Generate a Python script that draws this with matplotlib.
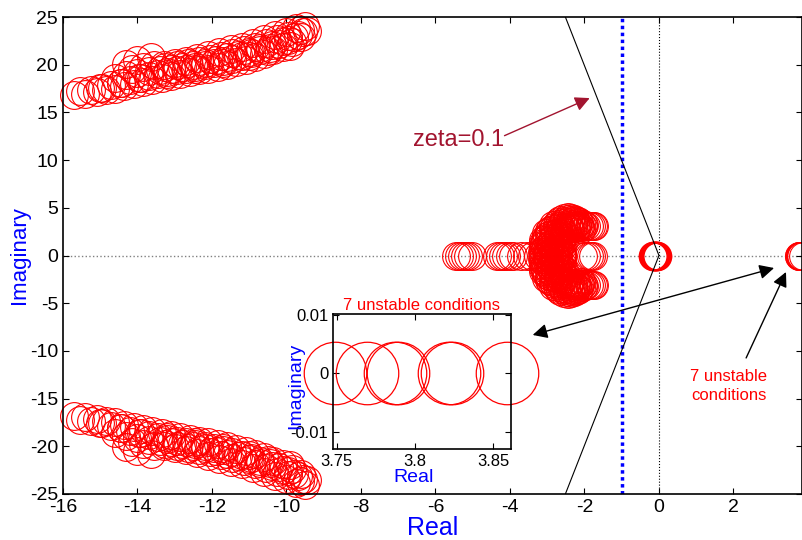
import matplotlib.pyplot as plt

plt.rcParams['font.family'] = ['Liberation Sans', 'DejaVu Sans']
plt.rcParams['axes.unicode_minus'] = False

# upper-left branch of poles (lower-left branch is its complex conjugate)
upper_re = [-15.7, -15.4, -15.1, -14.85, -14.6, -14.35, -14.1, -13.85, -13.6, -13.35,
            -13.1, -12.85, -12.6, -12.35, -12.1, -11.85, -11.6, -11.35, -11.1, -10.85,
            -10.6, -10.35, -10.1, -9.85, -9.6,
            -14.3, -14.0, -13.65, -13.3, -13.0, -12.7, -12.4, -12.1, -11.8, -11.5,
            -11.2, -10.9, -10.6, -10.3, -10.0, -9.75, -9.5,
            -14.6, -14.3, -14.0, -13.7, -13.4, -13.1, -12.8, -12.5, -12.2, -11.9,
            -11.6, -11.3, -11.0, -10.7, -10.4, -10.1, -9.8, -9.55,
            -15.0, -14.45, -13.9, -13.2, -12.45, -11.7, -11.0, -10.5, -9.9, -9.45,
            -15.55, -15.25, -14.95, -14.7, -14.45, -14.2, -13.95, -13.7, -13.45, -13.2,
            -12.95, -12.7, -12.45, -12.2, -11.95, -11.7, -11.45, -11.2, -10.95, -10.7,
            -10.45, -10.2, -9.95, -9.7,
            -14.15, -13.85, -13.55, -13.25, -12.95, -12.65, -12.35, -12.05, -11.75, -11.45,
            -11.15, -10.85, -10.55, -10.25, -9.95, -9.65]
upper_im = [16.8, 16.9, 17.1, 17.3, 17.5, 17.8, 18.0, 18.2, 18.4, 18.6,
            18.8, 19.0, 19.2, 19.4, 19.6, 19.8, 20.0, 20.3, 20.5, 20.8,
            21.1, 21.5, 21.9, 22.4, 22.9,
            20.1, 20.5, 20.8, 20.0, 20.2, 20.4, 20.7, 21.0, 21.3, 21.6,
            21.9, 22.3, 22.7, 23.1, 23.4, 23.8, 24.1,
            18.6, 18.9, 19.1, 19.3, 19.4, 19.6, 19.8, 20.0, 20.2, 20.5,
            20.8, 21.0, 21.3, 21.7, 22.1, 22.5, 22.9, 23.4,
            17.6, 18.1, 18.6, 19.0, 19.6, 20.2, 20.9, 21.4, 22.0, 23.5,
            17.2, 17.4, 17.6, 17.9, 18.1, 18.4, 18.6, 18.8, 19.0, 19.2,
            19.4, 19.6, 19.8, 20.0, 20.2, 20.4, 20.6, 20.9, 21.2, 21.5,
            21.8, 22.2, 22.6, 23.1,
            19.6, 19.8, 20.0, 19.8, 20.0, 20.2, 20.4, 20.6, 20.9, 21.2,
            21.5, 21.9, 22.3, 22.7, 23.0, 23.6]

# middle cluster, upper half (lower half is the conjugate)
mid_re = [-3.15, -3.1, -3.05, -2.95, -2.85, -2.75, -2.65, -2.55, -2.45, -2.35,
          -2.25, -2.15, -2.05,
          -1.95, -1.88, -1.82, -1.78, -1.75,
          -3.0, -2.9, -2.8, -2.7, -2.6, -2.6, -2.7, -2.55, -2.45, -2.3, -2.2, -2.1,
          -3.1, -3.05, -2.95, -2.95, -2.9, -2.85, -2.85, -2.8, -2.8, -2.75,
          -2.75, -2.7, -2.7, -2.65, -2.65, -2.6, -2.6, -2.6, -2.55, -2.55,
          -2.5, -2.5, -2.4, -2.4, -2.35, -2.3, -2.25, -2.2, -2.15, -2.1,
          -2.05, -2.0, -2.85, -2.95, -3.0, -3.1,
          -3.12, -3.08, -3.02, -2.98, -2.92, -2.88, -2.82, -2.78, -2.72, -2.68,
          -2.62, -2.58, -3.12, -3.02, -2.92, -2.82, -2.72, -2.62,
          -3.0, -2.9, -2.8, -2.7, -2.6,
          -2.52, -2.48, -2.42, -2.38, -2.32, -2.28, -2.22, -2.18, -2.12,
          -2.5, -2.4, -2.3, -2.2]
mid_im = [0.4, 1.0, 1.6, 2.2, 2.8, 3.3, 3.7, 3.9, 4.0, 3.9,
          3.7, 3.5, 3.3,
          3.1, 3.1, 3.1, 3.1, 3.1,
          0.6, 1.2, 0.7, 1.8, 0.9, 2.6, 2.5, 1.5, 3.2, 2.9, 3.0, 2.8,
          0.2, 0.8, 0.3, 1.5, 0.9, 1.9, 0.4, 1.4, 2.3, 1.0,
          2.9, 0.5, 1.3, 2.1, 3.1, 1.7, 0.3, 3.4, 2.3, 3.6,
          2.9, 3.5, 3.5, 2.7, 3.3, 3.6, 3.2, 3.4, 3.1, 3.3,
          3.0, 3.2, 3.2, 2.6, 2.0, 1.3,
          0.6, 1.2, 1.8, 0.5, 1.1, 1.7, 2.4, 0.2, 2.0, 0.8,
          1.2, 2.0, 1.6, 2.4, 2.7, 3.0, 3.5, 2.9,
          0.1, 0.2, 0.1, 0.2, 0.1,
          3.0, 3.8, 3.0, 3.7, 3.1, 3.8, 2.9, 3.6, 3.0,
          2.7, 2.9, 3.3, 3.2]

# poles on the real axis
axis_re = [-5.45, -5.38, -5.3, -5.22, -5.12, -5.02,
           -4.35, -4.28, -4.2, -4.1, -4.0, -3.92, -3.7, -3.55, -3.4, -3.25,
           -2.05, -1.95, -1.88, -1.82, -1.78]
origin_re = [-0.16, -0.13, -0.1, -0.07, -0.05]
unstable_re = [3.749, 3.769, 3.787, 3.789, 3.822, 3.824, 3.859]

zeta = 0.1
sigma_line = -1

fig = plt.figure(figsize=(8.03, 5.40), dpi=100)
ax = fig.add_axes([63 / 803, 1 - 494 / 540, 739 / 803, 477 / 540])

mk = dict(ls='none', marker='o', ms=20, mfc='none', mec='red', mew=0.8, clip_on=False)
ax.plot(upper_re, upper_im, **mk)
ax.plot(upper_re, [-v for v in upper_im], **mk)
ax.plot(mid_re, mid_im, **mk)
ax.plot(mid_re, [-v for v in mid_im], **mk)
ax.plot(axis_re, [0] * len(axis_re), **mk)
ax.plot(origin_re, [0] * len(origin_re), **dict(mk, mew=1.4))
ax.plot(unstable_re, [0] * len(unstable_re), **mk)

ax.axhline(0, color='gray', ls=':', lw=1, zorder=0)
ax.axvline(0, color='k', ls=':', lw=0.8, zorder=0)
ax.axvline(sigma_line, color='blue', ls=(0, (1, 1)), lw=2.5)

xz = -25 * zeta / (1 - zeta ** 2) ** 0.5
ax.plot([xz, 0, xz], [25, 0, -25], color='k', lw=0.8)

ax.set_xlim(-16, 3.84)
ax.set_ylim(-25, 25)
ax.set_xticks(range(-16, 3, 2))
ax.set_yticks(range(-25, 26, 5))
ax.tick_params(direction='in', top=True, right=True, length=4, labelsize=14)
for s in ax.spines.values():
    s.set_linewidth(1.2)
ax.set_xlabel('Real', color='blue', fontsize=18, labelpad=0)
ax.set_ylabel('Imaginary', color='blue', fontsize=16, labelpad=0)

ax.annotate('zeta=0.1', xy=(-1.86, 16.5), xytext=(-5.37, 12.1),
            color='#A2142F', fontsize=17, ha='center', va='center',
            arrowprops=dict(arrowstyle='-|>', color='#A2142F', lw=1,
                            mutation_scale=22, shrinkA=0, shrinkB=0,
                            patchA=None, relpos=(1.0, 0.7)))
ax.annotate('', xy=(-3.39, -8.33), xytext=(3.09, -1.31),
            arrowprops=dict(arrowstyle='<|-|>', color='k', lw=1,
                            mutation_scale=22, shrinkA=0, shrinkB=0))
ax.annotate('', xy=(3.41, -1.73), xytext=(2.34, -10.74),
            arrowprops=dict(arrowstyle='-|>', color='k', lw=1,
                            mutation_scale=22, shrinkA=0, shrinkB=0))
ax.text(1.87, -13.7, '7 unstable\nconditions', color='red', fontsize=12,
        ha='center', va='center', linespacing=1.3)

# zoomed inset around the unstable poles
axi = fig.add_axes([333 / 803, 1 - 449 / 540, 178 / 803, 135 / 540])
axi.plot(unstable_re, [0] * len(unstable_re), ls='none', marker='o', ms=45,
         mfc='none', mec='red', mew=0.9, clip_on=False)
axi.set_xlim(3.7475, 3.8615)
axi.set_ylim(-0.013, 0.0102)
axi.set_xticks([3.75, 3.8, 3.85])
axi.set_xticklabels(['3.75', '3.8', '3.85'])
axi.set_yticks([-0.01, 0, 0.01])
axi.set_yticklabels(['-0.01', '0', '0.01'])
axi.tick_params(direction='in', top=True, right=True, length=4, labelsize=12)
for s in axi.spines.values():
    s.set_linewidth(1.2)
axi.set_title('7 unstable conditions', color='red', fontsize=12, pad=3)
axi.set_xlabel('Real', color='blue', fontsize=14)
axi.xaxis.set_label_coords(0.45, -0.15)
axi.set_ylabel('Imaginary', color='blue', fontsize=14)
axi.yaxis.set_label_coords(-0.16, 0.47)

fig.savefig('out.png', dpi=100)
